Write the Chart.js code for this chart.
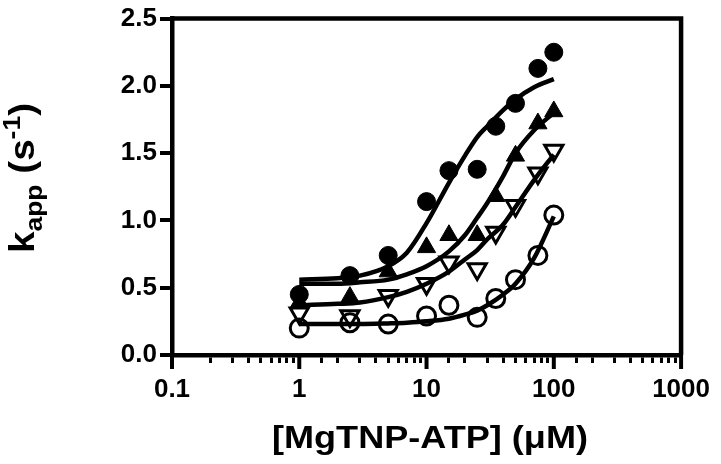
<!DOCTYPE html>
<html>
<head>
<meta charset="utf-8">
<script src="https://cdn.jsdelivr.net/npm/chart.js@4.4.0/dist/chart.umd.min.js"></script>
<style>
  html, body { margin: 0; padding: 0; background: #fff; }
  #wrap { width: 721px; height: 464px; }
</style>
</head>
<body>
<div id="wrap"><canvas id="grafico"></canvas></div>
<script>
// concentracoes medidas (uM)
const conc = [1, 2.5, 5, 10, 15, 25, 35, 50, 75, 100];
// kapp (s-1) por serie
const kFilledCircle   = [0.45, 0.59, 0.74, 1.14, 1.37, 1.38, 1.70, 1.87, 2.13, 2.25];
const kFilledTriangle = [0.39, 0.43, 0.62, 0.80, 0.89, 0.89, 1.18, 1.48, 1.72, 1.81];
const kOpenTriangle   = [0.31, 0.29, 0.44, 0.53, 0.69, 0.64, 0.91, 1.11, 1.35, 1.52];
const kOpenCircle     = [0.20, 0.24, 0.23, 0.29, 0.37, 0.28, 0.42, 0.56, 0.74, 1.04];

// curvas ajustadas
const fitX  = [1, 2, 3, 5, 7, 10, 15, 20, 25, 30, 40, 50, 70, 100];
const fit1 = [0.56, 0.57, 0.59, 0.66, 0.76, 0.98, 1.28, 1.48, 1.62, 1.70, 1.82, 1.90, 1.99, 2.05];
const fit2 = [0.53, 0.53, 0.54, 0.56, 0.60, 0.66, 0.77, 0.89, 1.02, 1.13, 1.33, 1.50, 1.67, 1.80];
const fit3 = [0.37, 0.38, 0.39, 0.43, 0.47, 0.53, 0.62, 0.71, 0.78, 0.86, 0.97, 1.10, 1.30, 1.49];
const fit4 = [0.23, 0.23, 0.23, 0.235, 0.24, 0.25, 0.27, 0.30, 0.33, 0.37, 0.45, 0.53, 0.72, 1.03];

const xTickLabels = ['0.1', '1', '10', '100', '1000'];

const FONT = '"Liberation Sans", Arial, sans-serif';
Chart.defaults.font.family = FONT;
Chart.defaults.color = '#000';

function pts(xs, ys) {
    return xs.map((x, i) => ({ x: x, y: ys[i] }));
}

function isLabelled(v) {
    return xTickLabels.find(l => Math.abs(Number(l) - v) < 1e-9 * Math.max(1, v));
}

function curve(ys) {
    return {
        type: 'line',
        data: pts(fitX, ys),
        borderColor: '#000',
        borderWidth: 4.5,
        pointRadius: 0,
        fill: false,
        cubicInterpolationMode: 'monotone',
        order: 2
    };
}

function marker(ys, style, filled, rot) {
    return {
        type: 'scatter',
        data: pts(conc, ys),
        pointStyle: style,
        pointRadius: style === 'circle' ? 9 : 10.5,
        pointRotation: rot || 0,
        pointBackgroundColor: filled ? '#000' : 'rgba(0,0,0,0)',
        pointBorderColor: '#000',
        pointBorderWidth: filled ? 1 : 3,
        order: 1
    };
}

// texto esticado na horizontal ate a largura alvo
function fitText(ctx, txt, x, y, width) {
    const w = ctx.measureText(txt).width;
    ctx.save();
    ctx.translate(x, y);
    ctx.scale(width / w, 1);
    ctx.fillText(txt, 0, 0);
    ctx.restore();
}

// moldura, ticks maiores e titulos
const extras = {
    id: 'extras',
    afterDraw(chart) {
        const ctx = chart.ctx;
        const a = chart.chartArea;
        const xs = chart.scales.x;
        ctx.save();
        ctx.strokeStyle = '#000';
        ctx.lineWidth = 4.5;
        ctx.beginPath();
        ctx.moveTo(a.left, a.top);
        ctx.lineTo(a.right, a.top);
        ctx.lineTo(a.right, a.bottom);
        ctx.stroke();

        ctx.lineWidth = 4;
        xs.ticks.forEach(t => {
            if (isLabelled(t.value)) {
                const px = xs.getPixelForValue(t.value);
                ctx.beginPath();
                ctx.moveTo(px, a.bottom);
                ctx.lineTo(px, a.bottom + 14);
                ctx.stroke();
            }
        });

        // titulo do eixo x
        ctx.fillStyle = '#000';
        ctx.font = 'bold 31px ' + FONT;
        ctx.textAlign = 'center';
        ctx.textBaseline = 'alphabetic';
        fitText(ctx, '[MgTNP-ATP] (\u03bcM)', 430, 448, 316);

        // titulo do eixo y: k_app (s^-1)
        const parts = [
            { t: 'k', f: 'bold 35px ', dy: 0 },
            { t: 'app', f: 'bold 24px ', dy: 8 },
            { t: ' (s', f: 'bold 35px ', dy: 0 },
            { t: '-1', f: 'bold 24px ', dy: -14 },
            { t: ')', f: 'bold 35px ', dy: 0 }
        ];
        let total = 0;
        parts.forEach(p => { ctx.font = p.f + FONT; p.w = ctx.measureText(p.t).width; total += p.w; });
        ctx.translate(34, 178);
        ctx.rotate(-Math.PI / 2);
        ctx.scale(150 / total, 1);
        ctx.textAlign = 'left';
        let cx = -total / 2;
        parts.forEach(p => {
            ctx.font = p.f + FONT;
            ctx.fillText(p.t, cx, p.dy);
            cx += p.w;
        });
        ctx.restore();
    }
};

const config = {
    data: {
        datasets: [
            marker(kFilledCircle, 'circle', true),
            marker(kFilledTriangle, 'triangle', true),
            marker(kOpenTriangle, 'triangle', false, 180),
            marker(kOpenCircle, 'circle', false),
            curve(fit1),
            curve(fit2),
            curve(fit3),
            curve(fit4)
        ]
    },
    options: {
        responsive: true,
        maintainAspectRatio: false,
        animation: false,
        layout: { padding: { top: 13, right: 36, left: 0, bottom: 0 } },
        plugins: { legend: { display: false }, tooltip: { enabled: false } },
        scales: {
            x: {
                type: 'logarithmic',
                min: 0.1,
                max: 1000,
                afterFit: s => { s.height = 109; },
                border: { display: true, color: '#000', width: 4.5 },
                grid: { display: true, drawOnChartArea: false, drawTicks: true, tickLength: 8, lineWidth: 3, color: '#000' },
                ticks: {
                    autoSkip: false,
                    maxRotation: 0,
                    padding: 11,
                    font: { size: 26, weight: 'bold' },
                    callback: v => isLabelled(v) || ''
                }
            },
            y: {
                type: 'linear',
                min: 0,
                max: 2.5,
                afterFit: s => { s.width = 172; },
                border: { display: true, color: '#000', width: 4.5 },
                grid: { display: true, drawOnChartArea: false, drawTicks: true, tickLength: 12, lineWidth: 4, color: '#000' },
                ticks: {
                    stepSize: 0.5,
                    padding: 3,
                    font: { size: 26, weight: 'bold' },
                    callback: v => v.toFixed(1)
                }
            }
        }
    },
    plugins: [extras]
};

const ctx = document.getElementById('grafico').getContext('2d');
new Chart(ctx, config);
</script>
</body>
</html>
